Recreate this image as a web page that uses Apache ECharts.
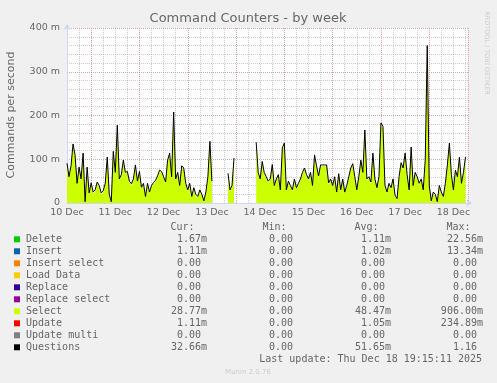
<!DOCTYPE html>
<html><head><meta charset="utf-8">
<script src="https://cdn.jsdelivr.net/npm/echarts@6/dist/echarts.min.js"></script>
<style>html,body{margin:0;padding:0;background:#f0f0f0}#c{width:497px;height:383px}</style>
</head><body><div id="c"></div>
<script>
// x = hours since 10 Dec 12:00 (one point per hour)
const dayLabels = ['10 Dec','11 Dec','12 Dec','13 Dec','14 Dec','15 Dec','16 Dec','17 Dec','18 Dec'];
const yTickLabels = {0:'0',100:'100 m',200:'200 m',300:'300 m',400:'400 m'};
const questions = [
91,60,85,135,110,45,82,55,114,3,
82,23,46,25,30,48,40,23,28,45,
105,20,3,118,70,178,55,65,98,70,
72,50,44,55,87,50,72,36,45,15,
45,25,40,47,52,62,75,72,60,48,
98,114,60,208,55,70,40,85,80,45,
30,45,15,35,20,15,30,20,5,25,
60,141,50,null,null,null,null,null,null,null,
68,30,40,103,null,null,null,null,null,null,
null,null,null,null,139,70,55,95,70,60,
50,55,88,40,55,65,30,126,137,30,
50,40,30,55,35,45,55,70,80,65,
55,70,40,110,85,62,87,87,87,87,
46,55,40,60,25,67,30,55,25,40,
60,80,90,60,30,60,98,70,167,55,
60,48,114,55,35,60,183,175,40,25,
45,35,55,18,10,60,92,80,114,65,
30,128,40,70,60,45,55,30,98,360,
40,5,25,20,3,40,25,15,45,87,
137,65,30,75,60,105,45,70,105
];
const select = [
88,57,82,131,106,42,79,52,110,1,
79,20,43,22,27,45,37,20,25,42,
101,17,1,114,67,173,52,62,95,67,
69,47,41,52,84,47,69,33,42,12,
42,22,37,44,49,59,72,69,57,45,
95,110,57,202,52,67,37,82,77,42,
27,42,12,32,17,12,27,17,3,22,
57,137,47,null,null,null,null,null,null,null,
65,27,37,99,null,null,null,null,null,null,
null,null,null,null,135,67,52,92,67,57,
47,52,85,37,52,62,27,122,133,27,
47,37,27,52,32,42,52,67,77,62,
52,67,37,106,82,59,84,84,84,84,
43,52,37,57,22,64,27,52,22,37,
57,77,87,57,27,57,95,67,162,52,
57,45,110,52,32,57,178,170,37,22,
42,32,52,15,8,57,89,77,110,62,
27,124,37,67,57,42,52,27,95,352,
37,3,22,17,1,37,22,12,42,84,
133,62,27,72,57,101,42,67,101
];
const legendNames = ['Delete','Insert','Insert select','Load Data','Replace','Replace select','Select','Update','Update multi','Questions'];
const legendColors = ['#00cc00','#0066b3','#ff8000','#ffcc00','#330099','#990099','#ccff00','#ff0000','#808080','#000000'];
const curVals = ['1.67m','1.11m','0.00','0.00','0.00','0.00','28.77m','1.11m','0.00','32.66m'];
const minVals = ['0.00','0.00','0.00','0.00','0.00','0.00','0.00','0.00','0.00','0.00'];
const avgVals = ['1.11m','1.02m','0.00','0.00','0.00','0.00','48.47m','1.05m','0.00','51.65m'];
const maxVals = ['22.56m','13.34m','0.00','0.00','0.00','0.00','906.00m','234.89m','0.00','1.16'];
const lastUpdate = 'Last update: Thu Dec 18 19:15:11 2025';

const chart = echarts.init(document.getElementById('c'), null, {renderer:'canvas'});
const FONT = '"DejaVu Sans", sans-serif';
const MONO = '"DejaVu Sans Mono", monospace';
const TXT = '#666666';
const AX = '#CFD6F8';
const XMAX = 199.25;
const MAJ = 'rgba(235,150,150,0.75)';
const MIN = 'rgba(175,175,175,0.65)';

const graphics = [];
graphics.push({type:'text', x:248, y:19, style:{text:'Command Counters - by week', fill:TXT, font:'13px '+FONT, align:'center', verticalAlign:'middle'}});
graphics.push({type:'text', x:11, y:115, rotation:Math.PI/2, style:{text:'Commands per second', fill:TXT, font:'11px '+FONT, align:'center', verticalAlign:'middle'}});
graphics.push({type:'text', x:487, y:53, rotation:-Math.PI/2, style:{text:'RRDTOOL / TOBI OETIKER', fill:'#cccccc', font:'6.5px '+FONT, align:'center', verticalAlign:'middle'}});
graphics.push({type:'text', x:248, y:372, style:{text:'Munin 2.0.76', fill:'#cccccc', font:'7px '+FONT, align:'center', verticalAlign:'middle'}});
const colEnds = [201, 293, 385, 477];
const headers = ['Cur:','Min:','Avg:','Max:'];
const headY = 227.3;
headers.forEach((h,i)=>graphics.push({type:'text', x:colEnds[i]-6.5, y:headY, style:{text:h, fill:TXT, font:'10px '+MONO, align:'right', verticalAlign:'middle'}}));
const cols = [curVals, minVals, avgVals, maxVals];
legendNames.forEach((n,r)=>{
  const y = 239.3 + 12*r;
  graphics.push({type:'rect', shape:{x:14, y:y-3, width:6, height:6}, style:{fill:legendColors[r]}});
  graphics.push({type:'text', x:26, y:y, style:{text:n, fill:TXT, font:'10px '+MONO, align:'left', verticalAlign:'middle'}});
  cols.forEach((arr,c)=>{
    const s = arr[r];
    const hasUnit = /[a-zA-Z]$/.test(s);
    graphics.push({type:'text', x:colEnds[c] + (hasUnit?6:0), y:y, style:{text:s, fill:TXT, font:'10px '+MONO, align:'right', verticalAlign:'middle'}});
  });
});
graphics.push({type:'text', x:482, y:239.3+12*10, style:{text:lastUpdate, fill:TXT, font:'10px '+MONO, align:'right', verticalAlign:'middle'}});

const qData = questions.map((v,i)=>[i, v]);
const sData = select.map((v,i)=>[i, v]);

chart.setOption({
  animation:false,
  backgroundColor:'#f0f0f0',
  grid:{left:67, top:28, width:401, height:175, show:true, backgroundColor:'#ffffff', borderWidth:0},
  xAxis:[
    {type:'value', min:0, max:XMAX, interval:24, gridIndex:0,
     axisLine:{show:true, lineStyle:{color:AX, width:1}, symbol:['none','arrow'], symbolSize:[6,6], symbolOffset:[0,4]},
     axisTick:{show:false}, splitLine:{show:false},
     axisLabel:{margin:5, color:TXT, fontFamily:FONT, fontSize:9.5, showMaxLabel:false,
       formatter:v=> (v%24===0 && dayLabels[v/24]) ? dayLabels[v/24] : ''}},
    {type:'value', min:0, max:XMAX, interval:6, gridIndex:0, show:true,
     axisLine:{show:false}, axisTick:{show:false}, axisLabel:{show:false},
     splitLine:{show:true, lineStyle:{color:MIN, type:[1,1], width:1}}},
    {type:'value', min:0, max:XMAX, interval:12, gridIndex:0, show:true,
     axisLine:{show:false}, axisTick:{show:false}, axisLabel:{show:false},
     splitLine:{show:true, lineStyle:{color:['rgba(0,0,0,0)', MAJ], type:[1,1], width:1}}}
  ],
  yAxis:[
    {type:'value', min:0, max:400, interval:100, gridIndex:0,
     axisLine:{show:true, lineStyle:{color:AX, width:1}, symbol:['none','arrow'], symbolSize:[6,6], symbolOffset:[0,4]},
     axisTick:{show:false},
     axisLabel:{margin:7, color:TXT, fontFamily:FONT, fontSize:9.5, formatter:v=> yTickLabels[v] || ''},
     splitLine:{show:true, lineStyle:{color:MAJ, type:[1,1], width:1}}},
    {type:'value', min:0, max:400, interval:20, gridIndex:0, position:'left',
     axisLine:{show:false}, axisTick:{show:false}, axisLabel:{show:false},
     splitLine:{show:true, lineStyle:{color:MIN, type:[1,1], width:1}}}
  ],
  series:[
    {type:'line', name:'Select', xAxisIndex:0, yAxisIndex:0, data:sData, showSymbol:false, symbol:'none',
     lineStyle:{width:0}, areaStyle:{color:'#ccff00', opacity:1}, connectNulls:false, z:3},
    {type:'line', name:'Questions', xAxisIndex:0, yAxisIndex:0, data:qData, showSymbol:false, symbol:'none',
     lineStyle:{width:1, color:'#000000'}, connectNulls:false, z:4}
  ],
  graphic:graphics
});
</script></body></html>
